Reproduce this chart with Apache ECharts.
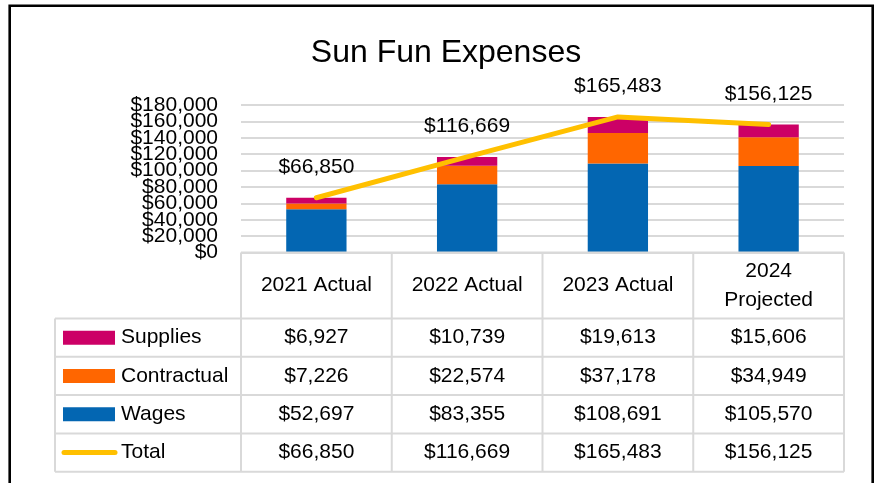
<!DOCTYPE html>
<html>
<head>
<meta charset="utf-8">
<script src="https://cdn.jsdelivr.net/npm/echarts@6/dist/echarts.min.js"></script>
<style>html,body{margin:0;padding:0;background:#fff;}#c{width:875px;height:483px;}</style>
</head>
<body>
<div id="c"></div>
<script>
const categories = ['2021 Actual', '2022 Actual', '2023 Actual', '2024\nProjected'];
const supplies = [6927, 10739, 19613, 15606];
const contractual = [7226, 22574, 37178, 34949];
const wages = [52697, 83355, 108691, 105570];
const total = [66850, 116669, 165483, 156125];
const seriesNames = ['Supplies', 'Contractual', 'Wages', 'Total'];
const yMin = 0, yMax = 180000, yStep = 20000;

const FONT = 'Liberation Sans';
const COLORS = { Supplies: '#CC0066', Contractual: '#FF6600', Wages: '#0366B2', Total: '#FFC000' };
const fmt = v => '$' + v.toLocaleString('en-US');
const px = v => Array.isArray(v) ? v[0] : v;
const py = v => Array.isArray(v) ? v[1] : v;

const labelBase = { fontFamily: FONT, fontSize: 21, color: '#000', margin: 23, hideOverlap: false };
const chart = echarts.init(document.getElementById('c'), null, { renderer: 'canvas' });
chart.setOption({
  animation: false,
  backgroundColor: '#fff',
  title: {
    text: 'Sun Fun Expenses', left: 441, top: 32, textAlign: 'center',
    textStyle: { fontFamily: FONT, fontSize: 32, fontWeight: 'normal', color: '#000' }
  },
  grid: { left: 241, right: 31, top: 105, bottom: 230.5, containLabel: false },
  xAxis: {
    type: 'category', data: categories,
    axisLine: { show: false }, axisTick: { show: false }, axisLabel: { show: false }
  },
  yAxis: [
    { type: 'value', min: yMin, max: yMax, interval: yStep, position: 'left',
      axisLine: { show: false }, axisTick: { show: false },
      axisLabel: Object.assign({ formatter: v => fmt(v), showMinLabel: false, showMaxLabel: false }, labelBase),
      splitLine: { lineStyle: { color: '#D9D9D9', width: 2 } } },
    { type: 'value', min: yMin, max: yMax, interval: yStep, position: 'left', offset: 0,
      axisLine: { show: false }, axisTick: { show: false }, splitLine: { show: false },
      axisLabel: Object.assign({ formatter: v => (v === yMin || v === yMax) ? fmt(v) : '',
        showMinLabel: true, showMaxLabel: true }, labelBase) }
  ],
  series: [
    { name: 'Wages', type: 'bar', stack: 's', data: wages, barWidth: '40%', itemStyle: { color: COLORS.Wages } },
    { name: 'Contractual', type: 'bar', stack: 's', data: contractual, itemStyle: { color: COLORS.Contractual } },
    { name: 'Supplies', type: 'bar', stack: 's', data: supplies, itemStyle: { color: COLORS.Supplies } },
    { name: 'Total', type: 'line', data: total, symbol: 'circle', symbolSize: 2, showSymbol: true, z: 5,
      itemStyle: { color: COLORS.Total },
      lineStyle: { color: COLORS.Total, width: 5, cap: 'round', join: 'round' },
      label: { show: true, position: 'top', distance: 19, formatter: p => fmt(p.value),
        fontFamily: FONT, fontSize: 21, color: '#000' },
      labelLayout: { hideOverlap: false } }
  ]
});

// Data table under the plot, positioned from the chart's own scales
const centers = categories.map((c, i) => px(chart.convertToPixel({ xAxisIndex: 0 }, i)));
const catW = centers[1] - centers[0];
const colEdges = [centers[0] - catW / 2].concat(centers.map(c => c + catW / 2));
const y0 = py(chart.convertToPixel({ yAxisIndex: 0 }, 0));
const headerBottom = y0 + 66;
const rowH = 38.3;
const rowEdges = [headerBottom];
for (let i = 1; i <= 4; i++) rowEdges.push(headerBottom + rowH * i);
const tableLeft = 55;
const tableRight = colEdges[colEdges.length - 1];
const LC = '#D9D9D9';
const g = [];
const hline = (x1, x2, y) => g.push({ type: 'line', z: 10, shape: { x1, y1: y, x2, y2: y }, style: { stroke: LC, lineWidth: 2 } });
const vline = (x, y1, y2) => g.push({ type: 'line', z: 10, shape: { x1: x, y1, x2: x, y2 }, style: { stroke: LC, lineWidth: 2 } });
const text = (t, x, y, align, extra) => g.push({ type: 'text', z: 11, x, y,
  style: Object.assign({ text: t, fontFamily: FONT, fontSize: 21, fill: '#000', align, verticalAlign: 'middle',
    textAlign: align, textVerticalAlign: 'middle' }, extra || {}) });

hline(colEdges[0], tableRight, y0);
rowEdges.forEach(y => hline(tableLeft, tableRight, y));
vline(tableLeft, rowEdges[0], rowEdges[4]);
colEdges.forEach(x => vline(x, y0, rowEdges[4]));

// header
categories.forEach((c, i) => text(c, centers[i], (y0 + headerBottom) / 2, 'center', { lineHeight: 29 }));
// rows
const rowData = [supplies, contractual, wages, total];
seriesNames.forEach((name, r) => {
  const cy = (rowEdges[r] + rowEdges[r + 1]) / 2;
  if (name === 'Total') {
    g.push({ type: 'line', z: 11, shape: { x1: 64, y1: cy, x2: 115, y2: cy },
      style: { stroke: COLORS.Total, lineWidth: 5, lineCap: 'round' } });
  } else {
    g.push({ type: 'rect', z: 11, shape: { x: 63, y: cy - 7, width: 52, height: 14 }, style: { fill: COLORS[name] } });
  }
  text(name, 121, cy, 'left');
  rowData[r].forEach((v, i) => text(fmt(v), centers[i], cy, 'center'));
});

// outer frame
g.push({ type: 'rect', z: 20, shape: { x: 9.7, y: 5.8, width: 863, height: 500 }, style: { fill: 'none', stroke: '#000', lineWidth: 2.6 } });

chart.setOption({ graphic: g });
</script>
</body>
</html>
